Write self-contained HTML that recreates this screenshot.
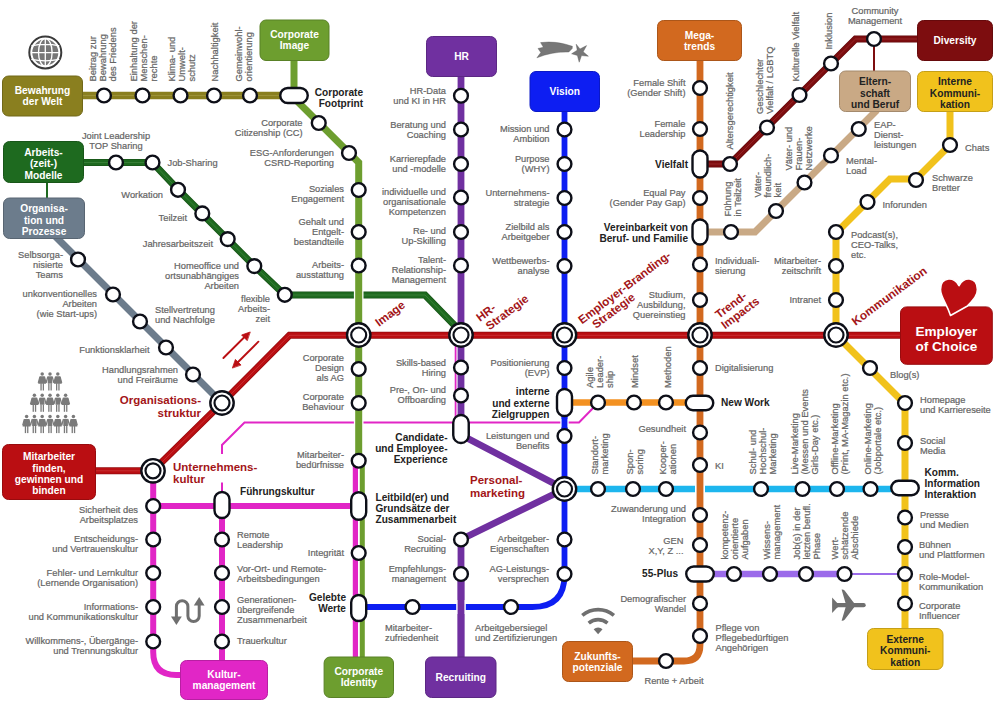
<!DOCTYPE html>
<html><head><meta charset="utf-8"><style>
html,body{margin:0;padding:0;background:#fff;width:1000px;height:702px;overflow:hidden}
svg{display:block}
text{font-family:"Liberation Sans",sans-serif}
</style></head><body>
<svg width="1000" height="702" viewBox="0 0 1000 702">
<rect width="1000" height="702" fill="#fff"/>
<path d="M47,182 V198" fill="none" stroke="#1e6a1f" stroke-width="2" stroke-linejoin="miter"/>
<path d="M874,39 V71" fill="none" stroke="#7d0d0f" stroke-width="2" stroke-linejoin="miter"/>
<path d="M80,95.5 H284" fill="none" stroke="#8a7f1f" stroke-width="7.4" stroke-linejoin="miter"/>
<path d="M80,95.5 H284" fill="none" stroke="#e8e0a0" stroke-width="0.9" stroke-linejoin="miter" opacity="0.22"/>
<path d="M82,162.5 H152.5 L178,189.5 L254.3,266 L284.8,295 H425 L461,332" fill="none" stroke="#185418" stroke-width="7" stroke-linejoin="miter"/>
<path d="M82,162.5 H152.5 L178,189.5 L254.3,266 L284.8,295 H425 L461,332" fill="none" stroke="#1e6a1f" stroke-width="5.4" stroke-linejoin="miter"/>
<path d="M82,162.5 H152.5 L178,189.5 L254.3,266 L284.8,295 H425 L461,332" fill="none" stroke="#a0d0a0" stroke-width="0.9" stroke-linejoin="miter" opacity="0.22"/>
<path d="M55,236 L222,403" fill="none" stroke="#6c7c8c" stroke-width="7" stroke-linejoin="miter"/>
<path d="M222,454 V445 L244.5,422.5 H579 L598,403" fill="none" stroke="#e126c6" stroke-width="2" stroke-linejoin="miter"/>
<path d="M222,493 V482.5" fill="none" stroke="#e126c6" stroke-width="2" stroke-linejoin="miter"/>
<path d="M455.6,345 V418" fill="none" stroke="#e126c6" stroke-width="1.8" stroke-linejoin="miter"/>
<path d="M294,58 V90" fill="none" stroke="#6d9e2f" stroke-width="7" stroke-linejoin="miter"/>
<path d="M358.7,286 V303" fill="none" stroke="#fff" stroke-width="9.6"/>
<path d="M358.7,419 V427" fill="none" stroke="#fff" stroke-width="9.6"/>
<path d="M296,100 L358.7,162.5 V461" fill="none" stroke="#6d9e2f" stroke-width="7" stroke-linejoin="miter"/>
<path d="M362.3,461 V660" fill="none" stroke="#6d9e2f" stroke-width="5" stroke-linejoin="miter"/>
<path d="M355.4,461 V660" fill="none" stroke="#e126c6" stroke-width="5.2" stroke-linejoin="miter"/>
<path d="M461,74 V430" fill="none" stroke="#7030a0" stroke-width="6.8" stroke-linejoin="miter"/>
<path d="M465,437 L564.5,489 L461,539.5 V660" fill="none" stroke="#7030a0" stroke-width="6.8" stroke-linejoin="round"/>
<path d="M564.5,108 V575 Q564.5,607 532.5,607 H366" fill="none" stroke="#0d1ef2" stroke-width="5.8" stroke-linejoin="miter"/>
<path d="M461,600 V614" fill="none" stroke="#fff" stroke-width="9.6"/>
<path d="M461,576 V660" fill="none" stroke="#7030a0" stroke-width="6.8" stroke-linejoin="miter"/>
<path d="M564.5,419 V427" fill="none" stroke="#fff" stroke-width="8.4"/>
<path d="M564.5,415 V430" fill="none" stroke="#0d1ef2" stroke-width="5.8" stroke-linejoin="miter"/>
<path d="M564.5,489 H897" fill="none" stroke="#1db6ee" stroke-width="6.3" stroke-linejoin="miter"/>
<path d="M700,482 V496" fill="none" stroke="#fff" stroke-width="10"/>
<path d="M700,58 V645 Q700,661 684,661 H630" fill="none" stroke="#d2691f" stroke-width="6.8" stroke-linejoin="miter"/>
<path d="M706,164 H730 L855.5,39 H920" fill="none" stroke="#640a0c" stroke-width="7" stroke-linejoin="miter"/>
<path d="M706,164 H730 L855.5,39 H920" fill="none" stroke="#7d0d0f" stroke-width="5.4" stroke-linejoin="miter"/>
<path d="M706,164 H730 L855.5,39 H920" fill="none" stroke="#ff9090" stroke-width="0.9" stroke-linejoin="miter" opacity="0.22"/>
<path d="M877,110 L755,232 H708" fill="none" stroke="#c9a985" stroke-width="7" stroke-linejoin="miter"/>
<path d="M950,108 V145 L916,179 H890 L836,233 V335 L905,404 V632" fill="none" stroke="#f1c21c" stroke-width="7" stroke-linejoin="miter"/>
<path d="M92,470.8 H153 L222,403 L289.5,335.3 H905" fill="none" stroke="#940b0e" stroke-width="7" stroke-linejoin="miter"/>
<path d="M92,470.8 H153 L222,403 L289.5,335.3 H905" fill="none" stroke="#ba0e12" stroke-width="5.4" stroke-linejoin="miter"/>
<path d="M92,470.8 H153 L222,403 L289.5,335.3 H905" fill="none" stroke="#ffb0b0" stroke-width="0.9" stroke-linejoin="miter" opacity="0.22"/>
<path d="M153.2,471 V652 Q153.2,675 176.2,675 H185" fill="none" stroke="#e126c6" stroke-width="6" stroke-linejoin="miter"/>
<path d="M153.2,506 H352" fill="none" stroke="#e126c6" stroke-width="6" stroke-linejoin="miter"/>
<path d="M222,506 V662" fill="none" stroke="#e126c6" stroke-width="6" stroke-linejoin="miter"/>
<path d="M570,402.5 H690" fill="none" stroke="#f39121" stroke-width="6.6" stroke-linejoin="miter"/>
<path d="M708,574 H845" fill="none" stroke="#9b6bea" stroke-width="6.6" stroke-linejoin="miter"/>
<path d="M845,574 H905" fill="none" stroke="#9b6bea" stroke-width="2" stroke-linejoin="miter"/>
<rect x="2.5" y="76.0" width="80" height="40.0" rx="6" ry="6" fill="#8a7f1f" stroke="#716819" stroke-width="1"/>
<g transform="translate(42.5,94.172)"><text font-size="10.2" font-weight="bold" fill="#fff" text-anchor="middle"><tspan x="0" y="0.00">Bewahrung</tspan><tspan x="0" y="11.00">der Welt</tspan></text></g>
<rect x="3.5" y="141.5" width="80" height="41" rx="6" ry="6" fill="#1e6a1f" stroke="#185619" stroke-width="1"/>
<g transform="translate(43.5,155.97199999999998)"><text font-size="10.2" font-weight="bold" fill="#fff" text-anchor="middle"><tspan x="0" y="0.00">Arbeits-</tspan><tspan x="0" y="11.30">(zeit-)</tspan><tspan x="0" y="22.60">Modelle</tspan></text></g>
<rect x="3.5" y="198.0" width="81" height="40.5" rx="6" ry="6" fill="#6c7c8c" stroke="#586572" stroke-width="1"/>
<g transform="translate(44.0,212.22199999999998)"><text font-size="10.2" font-weight="bold" fill="#fff" text-anchor="middle"><tspan x="0" y="0.00">Organisa-</tspan><tspan x="0" y="11.30">tion und</tspan><tspan x="0" y="22.60">Prozesse</tspan></text></g>
<rect x="260.0" y="20.0" width="69.0" height="40.5" rx="6" ry="6" fill="#6d9e2f" stroke="#598126" stroke-width="1"/>
<g transform="translate(294.5,38.422)"><text font-size="10.2" font-weight="bold" fill="#fff" text-anchor="middle"><tspan x="0" y="0.00">Corporate</tspan><tspan x="0" y="11.00">Image</tspan></text></g>
<rect x="426.5" y="36.5" width="70" height="40" rx="6" ry="6" fill="#7030a0" stroke="#5b2783" stroke-width="1"/>
<g transform="translate(461.5,60.172)"><text font-size="10.2" font-weight="bold" fill="#fff" text-anchor="middle"><tspan x="0" y="0.00">HR</tspan></text></g>
<rect x="530.0" y="71.5" width="69.5" height="40" rx="6" ry="6" fill="#0d1ef2" stroke="#0a18c6" stroke-width="1"/>
<g transform="translate(564.75,95.172)"><text font-size="10.2" font-weight="bold" fill="#fff" text-anchor="middle"><tspan x="0" y="0.00">Vision</tspan></text></g>
<rect x="657.5" y="20.5" width="84" height="40" rx="6" ry="6" fill="#d2691f" stroke="#ac5619" stroke-width="1"/>
<g transform="translate(699.5,38.672)"><text font-size="10.2" font-weight="bold" fill="#fff" text-anchor="middle"><tspan x="0" y="0.00">Mega-</tspan><tspan x="0" y="11.00">trends</tspan></text></g>
<rect x="917.5" y="20.5" width="75" height="40" rx="6" ry="6" fill="#7d0d0f" stroke="#660a0c" stroke-width="1"/>
<g transform="translate(955.0,44.172)"><text font-size="10.2" font-weight="bold" fill="#fff" text-anchor="middle"><tspan x="0" y="0.00">Diversity</tspan></text></g>
<rect x="839.5" y="71.0" width="71" height="40.5" rx="6" ry="6" fill="#c9a985" stroke="#a48a6d" stroke-width="1"/>
<g transform="translate(875.0,85.222)"><text font-size="10.2" font-weight="bold" fill="#222222" text-anchor="middle"><tspan x="0" y="0.00">Eltern-</tspan><tspan x="0" y="11.30">schaft</tspan><tspan x="0" y="22.60">und Beruf</tspan></text></g>
<rect x="917.5" y="71.5" width="75" height="40" rx="6" ry="6" fill="#f1c21c" stroke="#c59f16" stroke-width="1"/>
<g transform="translate(955.0,85.472)"><text font-size="10.2" font-weight="bold" fill="#222222" text-anchor="middle"><tspan x="0" y="0.00">Interne</tspan><tspan x="0" y="11.30">Kommuni-</tspan><tspan x="0" y="22.60">kation</tspan></text></g>
<rect x="900.5" y="306.9" width="91.79999999999995" height="57.400000000000034" rx="6" ry="6" fill="#ba0e12" stroke="#980b0e" stroke-width="1"/>
<g transform="translate(946.4,336.49600000000004)"><text font-size="13.6" font-weight="bold" fill="#fff" text-anchor="middle"><tspan x="0" y="0.00">Employer</tspan><tspan x="0" y="14.40">of Choice</tspan></text></g>
<rect x="2.5" y="444.5" width="93" height="55" rx="6" ry="6" fill="#ba0e12" stroke="#980b0e" stroke-width="1"/>
<g transform="translate(49.0,460.32200000000006)"><text font-size="10.2" font-weight="bold" fill="#fff" text-anchor="middle"><tspan x="0" y="0.00">Mitarbeiter</tspan><tspan x="0" y="11.30">finden,</tspan><tspan x="0" y="22.60">gewinnen und</tspan><tspan x="0" y="33.90">binden</tspan></text></g>
<rect x="180.5" y="660.5" width="87" height="39" rx="6" ry="6" fill="#e126c6" stroke="#b81fa2" stroke-width="1"/>
<g transform="translate(224.0,678.172)"><text font-size="10.2" font-weight="bold" fill="#fff" text-anchor="middle"><tspan x="0" y="0.00">Kultur-</tspan><tspan x="0" y="11.00">management</tspan></text></g>
<rect x="324.1" y="657.0" width="69.39999999999998" height="40.5" rx="6" ry="6" fill="#6d9e2f" stroke="#598126" stroke-width="1"/>
<g transform="translate(358.8,675.422)"><text font-size="10.2" font-weight="bold" fill="#fff" text-anchor="middle"><tspan x="0" y="0.00">Corporate</tspan><tspan x="0" y="11.00">Identity</tspan></text></g>
<rect x="425.5" y="657.0" width="70.5" height="40.5" rx="6" ry="6" fill="#7030a0" stroke="#5b2783" stroke-width="1"/>
<g transform="translate(460.75,680.922)"><text font-size="10.2" font-weight="bold" fill="#fff" text-anchor="middle"><tspan x="0" y="0.00">Recruiting</tspan></text></g>
<rect x="562.5" y="641.5" width="70" height="40" rx="6" ry="6" fill="#d2691f" stroke="#ac5619" stroke-width="1"/>
<g transform="translate(597.5,659.672)"><text font-size="10.2" font-weight="bold" fill="#fff" text-anchor="middle"><tspan x="0" y="0.00">Zukunfts-</tspan><tspan x="0" y="11.00">potenziale</tspan></text></g>
<rect x="867.5" y="628.5" width="75.5" height="41" rx="6" ry="6" fill="#f1c21c" stroke="#c59f16" stroke-width="1"/>
<g transform="translate(905.25,642.9720000000001)"><text font-size="10.2" font-weight="bold" fill="#222222" text-anchor="middle"><tspan x="0" y="0.00">Externe</tspan><tspan x="0" y="11.30">Kommuni-</tspan><tspan x="0" y="22.60">kation</tspan></text></g>
<circle cx="104" cy="95.5" r="6.9" fill="#fff" stroke="#0d0f18" stroke-width="2.4"/>
<circle cx="142.5" cy="95.5" r="6.9" fill="#fff" stroke="#0d0f18" stroke-width="2.4"/>
<circle cx="180.5" cy="95.5" r="6.9" fill="#fff" stroke="#0d0f18" stroke-width="2.4"/>
<circle cx="214" cy="95.5" r="6.9" fill="#fff" stroke="#0d0f18" stroke-width="2.4"/>
<circle cx="250" cy="95.5" r="6.9" fill="#fff" stroke="#0d0f18" stroke-width="2.4"/>
<rect x="280.25" y="88.0" width="27.5" height="15" rx="7.5" ry="7.5" fill="#fff" stroke="#0d0f18" stroke-width="2.4"/>
<circle cx="318.75" cy="123" r="6.9" fill="#fff" stroke="#0d0f18" stroke-width="2.4"/>
<circle cx="349" cy="153" r="6.9" fill="#fff" stroke="#0d0f18" stroke-width="2.4"/>
<circle cx="116" cy="162.5" r="6.9" fill="#fff" stroke="#0d0f18" stroke-width="2.4"/>
<circle cx="152.5" cy="162.5" r="6.9" fill="#fff" stroke="#0d0f18" stroke-width="2.4"/>
<circle cx="178" cy="189.8" r="6.9" fill="#fff" stroke="#0d0f18" stroke-width="2.4"/>
<circle cx="202.3" cy="213.4" r="6.9" fill="#fff" stroke="#0d0f18" stroke-width="2.4"/>
<circle cx="227.7" cy="239.1" r="6.9" fill="#fff" stroke="#0d0f18" stroke-width="2.4"/>
<circle cx="254.3" cy="266.1" r="6.9" fill="#fff" stroke="#0d0f18" stroke-width="2.4"/>
<circle cx="284.8" cy="294.8" r="6.9" fill="#fff" stroke="#0d0f18" stroke-width="2.4"/>
<circle cx="78" cy="259.5" r="6.9" fill="#fff" stroke="#0d0f18" stroke-width="2.4"/>
<circle cx="113" cy="294.5" r="6.9" fill="#fff" stroke="#0d0f18" stroke-width="2.4"/>
<circle cx="140" cy="321.5" r="6.9" fill="#fff" stroke="#0d0f18" stroke-width="2.4"/>
<circle cx="166" cy="347.5" r="6.9" fill="#fff" stroke="#0d0f18" stroke-width="2.4"/>
<circle cx="193" cy="374.5" r="6.9" fill="#fff" stroke="#0d0f18" stroke-width="2.4"/>
<circle cx="358.7" cy="190" r="6.9" fill="#fff" stroke="#0d0f18" stroke-width="2.4"/>
<circle cx="358.7" cy="232" r="6.9" fill="#fff" stroke="#0d0f18" stroke-width="2.4"/>
<circle cx="358.7" cy="265.5" r="6.9" fill="#fff" stroke="#0d0f18" stroke-width="2.4"/>
<circle cx="358.7" cy="369" r="6.9" fill="#fff" stroke="#0d0f18" stroke-width="2.4"/>
<circle cx="358.7" cy="403" r="6.9" fill="#fff" stroke="#0d0f18" stroke-width="2.4"/>
<circle cx="358.7" cy="460.75" r="6.9" fill="#fff" stroke="#0d0f18" stroke-width="2.4"/>
<rect x="351.2" y="492.25" width="15" height="27.5" rx="7.5" ry="7.5" fill="#fff" stroke="#0d0f18" stroke-width="2.4"/>
<circle cx="358.7" cy="553" r="6.9" fill="#fff" stroke="#0d0f18" stroke-width="2.4"/>
<rect x="351.2" y="595.0" width="15" height="26" rx="7.5" ry="7.5" fill="#fff" stroke="#0d0f18" stroke-width="2.4"/>
<circle cx="461" cy="95.75" r="6.9" fill="#fff" stroke="#0d0f18" stroke-width="2.4"/>
<circle cx="461" cy="129.5" r="6.9" fill="#fff" stroke="#0d0f18" stroke-width="2.4"/>
<circle cx="461" cy="164" r="6.9" fill="#fff" stroke="#0d0f18" stroke-width="2.4"/>
<circle cx="461" cy="197.5" r="6.9" fill="#fff" stroke="#0d0f18" stroke-width="2.4"/>
<circle cx="461" cy="232" r="6.9" fill="#fff" stroke="#0d0f18" stroke-width="2.4"/>
<circle cx="461" cy="265.5" r="6.9" fill="#fff" stroke="#0d0f18" stroke-width="2.4"/>
<circle cx="461" cy="367.5" r="6.9" fill="#fff" stroke="#0d0f18" stroke-width="2.4"/>
<circle cx="461" cy="395.5" r="6.9" fill="#fff" stroke="#0d0f18" stroke-width="2.4"/>
<rect x="453.25" y="415.0" width="15.5" height="28" rx="7.75" ry="7.75" fill="#fff" stroke="#0d0f18" stroke-width="2.4"/>
<circle cx="461" cy="539.5" r="6.9" fill="#fff" stroke="#0d0f18" stroke-width="2.4"/>
<circle cx="461" cy="574" r="6.9" fill="#fff" stroke="#0d0f18" stroke-width="2.4"/>
<circle cx="564.5" cy="129.5" r="6.9" fill="#fff" stroke="#0d0f18" stroke-width="2.4"/>
<circle cx="564.5" cy="164" r="6.9" fill="#fff" stroke="#0d0f18" stroke-width="2.4"/>
<circle cx="564.5" cy="198" r="6.9" fill="#fff" stroke="#0d0f18" stroke-width="2.4"/>
<circle cx="564.5" cy="232" r="6.9" fill="#fff" stroke="#0d0f18" stroke-width="2.4"/>
<circle cx="564.5" cy="266" r="6.9" fill="#fff" stroke="#0d0f18" stroke-width="2.4"/>
<circle cx="564.5" cy="368" r="6.9" fill="#fff" stroke="#0d0f18" stroke-width="2.4"/>
<circle cx="564.5" cy="436" r="6.9" fill="#fff" stroke="#0d0f18" stroke-width="2.4"/>
<circle cx="564.5" cy="539.5" r="6.9" fill="#fff" stroke="#0d0f18" stroke-width="2.4"/>
<circle cx="564.5" cy="574" r="6.9" fill="#fff" stroke="#0d0f18" stroke-width="2.4"/>
<rect x="557.0" y="389.0" width="15" height="27" rx="7.5" ry="7.5" fill="#fff" stroke="#0d0f18" stroke-width="2.4"/>
<circle cx="511" cy="607" r="6.9" fill="#fff" stroke="#0d0f18" stroke-width="2.4"/>
<circle cx="412.5" cy="607" r="6.9" fill="#fff" stroke="#0d0f18" stroke-width="2.4"/>
<circle cx="700" cy="88" r="6.9" fill="#fff" stroke="#0d0f18" stroke-width="2.4"/>
<circle cx="700" cy="129" r="6.9" fill="#fff" stroke="#0d0f18" stroke-width="2.4"/>
<circle cx="700" cy="198" r="6.9" fill="#fff" stroke="#0d0f18" stroke-width="2.4"/>
<circle cx="700" cy="264.5" r="6.9" fill="#fff" stroke="#0d0f18" stroke-width="2.4"/>
<circle cx="700" cy="300" r="6.9" fill="#fff" stroke="#0d0f18" stroke-width="2.4"/>
<circle cx="700" cy="368" r="6.9" fill="#fff" stroke="#0d0f18" stroke-width="2.4"/>
<circle cx="700" cy="432.5" r="6.9" fill="#fff" stroke="#0d0f18" stroke-width="2.4"/>
<circle cx="700" cy="465" r="6.9" fill="#fff" stroke="#0d0f18" stroke-width="2.4"/>
<circle cx="700" cy="515" r="6.9" fill="#fff" stroke="#0d0f18" stroke-width="2.4"/>
<circle cx="700" cy="545" r="6.9" fill="#fff" stroke="#0d0f18" stroke-width="2.4"/>
<circle cx="700" cy="603.5" r="6.9" fill="#fff" stroke="#0d0f18" stroke-width="2.4"/>
<circle cx="700" cy="636" r="6.9" fill="#fff" stroke="#0d0f18" stroke-width="2.4"/>
<rect x="692.5" y="150.5" width="15" height="27" rx="7.5" ry="7.5" fill="#fff" stroke="#0d0f18" stroke-width="2.4"/>
<rect x="692.5" y="219.5" width="15" height="25" rx="7.5" ry="7.5" fill="#fff" stroke="#0d0f18" stroke-width="2.4"/>
<rect x="685.75" y="395.75" width="27.5" height="14.5" rx="7.25" ry="7.25" fill="#fff" stroke="#0d0f18" stroke-width="2.4"/>
<rect x="686.25" y="566.5" width="27.5" height="15" rx="7.5" ry="7.5" fill="#fff" stroke="#0d0f18" stroke-width="2.4"/>
<circle cx="666" cy="661" r="6.9" fill="#fff" stroke="#0d0f18" stroke-width="2.4"/>
<circle cx="730" cy="164" r="6.9" fill="#fff" stroke="#0d0f18" stroke-width="2.4"/>
<circle cx="767" cy="127.5" r="6.9" fill="#fff" stroke="#0d0f18" stroke-width="2.4"/>
<circle cx="799.5" cy="95" r="6.9" fill="#fff" stroke="#0d0f18" stroke-width="2.4"/>
<circle cx="831" cy="63.5" r="6.9" fill="#fff" stroke="#0d0f18" stroke-width="2.4"/>
<circle cx="874" cy="39" r="6.9" fill="#fff" stroke="#0d0f18" stroke-width="2.4"/>
<circle cx="858.75" cy="129" r="6.9" fill="#fff" stroke="#0d0f18" stroke-width="2.4"/>
<circle cx="831" cy="155.5" r="6.9" fill="#fff" stroke="#0d0f18" stroke-width="2.4"/>
<circle cx="804.5" cy="182.5" r="6.9" fill="#fff" stroke="#0d0f18" stroke-width="2.4"/>
<circle cx="776" cy="211" r="6.9" fill="#fff" stroke="#0d0f18" stroke-width="2.4"/>
<circle cx="731" cy="232" r="6.9" fill="#fff" stroke="#0d0f18" stroke-width="2.4"/>
<circle cx="950" cy="145" r="6.9" fill="#fff" stroke="#0d0f18" stroke-width="2.4"/>
<circle cx="916" cy="180" r="6.9" fill="#fff" stroke="#0d0f18" stroke-width="2.4"/>
<circle cx="867.5" cy="202" r="6.9" fill="#fff" stroke="#0d0f18" stroke-width="2.4"/>
<circle cx="836" cy="232" r="6.9" fill="#fff" stroke="#0d0f18" stroke-width="2.4"/>
<circle cx="836" cy="266" r="6.9" fill="#fff" stroke="#0d0f18" stroke-width="2.4"/>
<circle cx="836" cy="300" r="6.9" fill="#fff" stroke="#0d0f18" stroke-width="2.4"/>
<circle cx="870" cy="368" r="6.9" fill="#fff" stroke="#0d0f18" stroke-width="2.4"/>
<circle cx="905" cy="403" r="6.9" fill="#fff" stroke="#0d0f18" stroke-width="2.4"/>
<circle cx="905" cy="443" r="6.9" fill="#fff" stroke="#0d0f18" stroke-width="2.4"/>
<circle cx="905" cy="517.5" r="6.9" fill="#fff" stroke="#0d0f18" stroke-width="2.4"/>
<circle cx="905" cy="547" r="6.9" fill="#fff" stroke="#0d0f18" stroke-width="2.4"/>
<circle cx="905" cy="574" r="6.9" fill="#fff" stroke="#0d0f18" stroke-width="2.4"/>
<circle cx="905" cy="603.5" r="6.9" fill="#fff" stroke="#0d0f18" stroke-width="2.4"/>
<rect x="891.25" y="480.75" width="27.5" height="14.5" rx="7.25" ry="7.25" fill="#fff" stroke="#0d0f18" stroke-width="2.4"/>
<circle cx="598" cy="402.5" r="6.9" fill="#fff" stroke="#0d0f18" stroke-width="2.4"/>
<circle cx="634" cy="402.5" r="6.9" fill="#fff" stroke="#0d0f18" stroke-width="2.4"/>
<circle cx="666" cy="402.5" r="6.9" fill="#fff" stroke="#0d0f18" stroke-width="2.4"/>
<circle cx="598" cy="489" r="6.9" fill="#fff" stroke="#0d0f18" stroke-width="2.4"/>
<circle cx="633" cy="489" r="6.9" fill="#fff" stroke="#0d0f18" stroke-width="2.4"/>
<circle cx="666" cy="489" r="6.9" fill="#fff" stroke="#0d0f18" stroke-width="2.4"/>
<circle cx="761" cy="489" r="6.9" fill="#fff" stroke="#0d0f18" stroke-width="2.4"/>
<circle cx="802.5" cy="489" r="6.9" fill="#fff" stroke="#0d0f18" stroke-width="2.4"/>
<circle cx="837" cy="489" r="6.9" fill="#fff" stroke="#0d0f18" stroke-width="2.4"/>
<circle cx="870.5" cy="489" r="6.9" fill="#fff" stroke="#0d0f18" stroke-width="2.4"/>
<circle cx="734" cy="574" r="6.9" fill="#fff" stroke="#0d0f18" stroke-width="2.4"/>
<circle cx="770" cy="574" r="6.9" fill="#fff" stroke="#0d0f18" stroke-width="2.4"/>
<circle cx="806" cy="574" r="6.9" fill="#fff" stroke="#0d0f18" stroke-width="2.4"/>
<circle cx="844.5" cy="574" r="6.9" fill="#fff" stroke="#0d0f18" stroke-width="2.4"/>
<circle cx="153.2" cy="506" r="6.9" fill="#fff" stroke="#0d0f18" stroke-width="2.4"/>
<circle cx="153.2" cy="539.5" r="6.9" fill="#fff" stroke="#0d0f18" stroke-width="2.4"/>
<circle cx="153.2" cy="573" r="6.9" fill="#fff" stroke="#0d0f18" stroke-width="2.4"/>
<circle cx="153.2" cy="607" r="6.9" fill="#fff" stroke="#0d0f18" stroke-width="2.4"/>
<circle cx="153.2" cy="641.5" r="6.9" fill="#fff" stroke="#0d0f18" stroke-width="2.4"/>
<rect x="214.5" y="492.0" width="15" height="26" rx="7.5" ry="7.5" fill="#fff" stroke="#0d0f18" stroke-width="2.4"/>
<circle cx="222" cy="539.5" r="6.9" fill="#fff" stroke="#0d0f18" stroke-width="2.4"/>
<circle cx="222" cy="573" r="6.9" fill="#fff" stroke="#0d0f18" stroke-width="2.4"/>
<circle cx="222" cy="607" r="6.9" fill="#fff" stroke="#0d0f18" stroke-width="2.4"/>
<circle cx="222" cy="641.5" r="6.9" fill="#fff" stroke="#0d0f18" stroke-width="2.4"/>
<circle cx="153" cy="470.8" r="11.7" fill="#fff" stroke="#0d0f18" stroke-width="2.4"/>
<circle cx="153" cy="470.8" r="7.5" fill="#fff" stroke="#0d0f18" stroke-width="2.2"/>
<circle cx="222" cy="403" r="11.7" fill="#fff" stroke="#0d0f18" stroke-width="2.4"/>
<circle cx="222" cy="403" r="7.5" fill="#fff" stroke="#0d0f18" stroke-width="2.2"/>
<circle cx="358.7" cy="335" r="11.7" fill="#fff" stroke="#0d0f18" stroke-width="2.4"/>
<circle cx="358.7" cy="335" r="7.5" fill="#fff" stroke="#0d0f18" stroke-width="2.2"/>
<circle cx="461" cy="335" r="11.7" fill="#fff" stroke="#0d0f18" stroke-width="2.4"/>
<circle cx="461" cy="335" r="7.5" fill="#fff" stroke="#0d0f18" stroke-width="2.2"/>
<circle cx="564.5" cy="335" r="11.7" fill="#fff" stroke="#0d0f18" stroke-width="2.4"/>
<circle cx="564.5" cy="335" r="7.5" fill="#fff" stroke="#0d0f18" stroke-width="2.2"/>
<circle cx="700" cy="335" r="11.7" fill="#fff" stroke="#0d0f18" stroke-width="2.4"/>
<circle cx="700" cy="335" r="7.5" fill="#fff" stroke="#0d0f18" stroke-width="2.2"/>
<circle cx="836" cy="335" r="11.7" fill="#fff" stroke="#0d0f18" stroke-width="2.4"/>
<circle cx="836" cy="335" r="7.5" fill="#fff" stroke="#0d0f18" stroke-width="2.2"/>
<circle cx="564.5" cy="489" r="11.7" fill="#fff" stroke="#0d0f18" stroke-width="2.4"/>
<circle cx="564.5" cy="489" r="7.5" fill="#fff" stroke="#0d0f18" stroke-width="2.2"/>
<g transform="translate(96.4,81.5) rotate(-90)"><text font-size="9.4" font-weight="normal" fill="#656565" stroke="#656565" stroke-width="0.22" text-anchor="start"><tspan x="0" y="0.00">Beitrag zur</tspan><tspan x="0" y="10.00">Bewahrung</tspan><tspan x="0" y="20.00">des Friedens</tspan></text></g>
<g transform="translate(137.4,81.5) rotate(-90)"><text font-size="9.4" font-weight="normal" fill="#656565" stroke="#656565" stroke-width="0.22" text-anchor="start"><tspan x="0" y="0.00">Einhaltung der</tspan><tspan x="0" y="10.00">Menschen-</tspan><tspan x="0" y="20.00">rechte</tspan></text></g>
<g transform="translate(175.4,81.5) rotate(-90)"><text font-size="9.4" font-weight="normal" fill="#656565" stroke="#656565" stroke-width="0.22" text-anchor="start"><tspan x="0" y="0.00">Klima- und</tspan><tspan x="0" y="10.00">Umwelt-</tspan><tspan x="0" y="20.00">schutz</tspan></text></g>
<g transform="translate(218.4,81.5) rotate(-90)"><text font-size="9.4" font-weight="normal" fill="#656565" stroke="#656565" stroke-width="0.22" text-anchor="start"><tspan x="0" y="0.00">Nachhaltigkeit</tspan></text></g>
<g transform="translate(242.4,81.5) rotate(-90)"><text font-size="9.4" font-weight="normal" fill="#656565" stroke="#656565" stroke-width="0.22" text-anchor="start"><tspan x="0" y="0.00">Gemeinwohl-</tspan><tspan x="0" y="10.00">orientierung</tspan></text></g>
<g transform="translate(116,139.4) scale(0.97,1)"><text font-size="9.6" font-weight="normal" fill="#656565" stroke="#656565" stroke-width="0.22" text-anchor="middle"><tspan x="0" y="0.00">Joint Leadership</tspan><tspan x="0" y="10.00">TOP Sharing</tspan></text></g>
<g transform="translate(167.5,165.9) scale(0.97,1)"><text font-size="9.6" font-weight="normal" fill="#656565" stroke="#656565" stroke-width="0.22" text-anchor="start"><tspan x="0" y="0.00">Job-Sharing</tspan></text></g>
<g transform="translate(163,197.9) scale(0.97,1)"><text font-size="9.6" font-weight="normal" fill="#656565" stroke="#656565" stroke-width="0.22" text-anchor="end"><tspan x="0" y="0.00">Workation</tspan></text></g>
<g transform="translate(187,221.4) scale(0.97,1)"><text font-size="9.6" font-weight="normal" fill="#656565" stroke="#656565" stroke-width="0.22" text-anchor="end"><tspan x="0" y="0.00">Teilzeit</tspan></text></g>
<g transform="translate(213,247.4) scale(0.97,1)"><text font-size="9.6" font-weight="normal" fill="#656565" stroke="#656565" stroke-width="0.22" text-anchor="end"><tspan x="0" y="0.00">Jahresarbeitszeit</tspan></text></g>
<g transform="translate(239,268.9) scale(0.97,1)"><text font-size="9.6" font-weight="normal" fill="#656565" stroke="#656565" stroke-width="0.22" text-anchor="end"><tspan x="0" y="0.00">Homeoffice und</tspan><tspan x="0" y="10.00">ortsunabhängiges</tspan><tspan x="0" y="20.00">Arbeiten</tspan></text></g>
<g transform="translate(270,302.4) scale(0.97,1)"><text font-size="9.6" font-weight="normal" fill="#656565" stroke="#656565" stroke-width="0.22" text-anchor="end"><tspan x="0" y="0.00">flexible</tspan><tspan x="0" y="10.00">Arbeits-</tspan><tspan x="0" y="20.00">zeit</tspan></text></g>
<g transform="translate(63,258.4) scale(0.97,1)"><text font-size="9.6" font-weight="normal" fill="#656565" stroke="#656565" stroke-width="0.22" text-anchor="end"><tspan x="0" y="0.00">Selbsorga-</tspan><tspan x="0" y="10.00">nisierte</tspan><tspan x="0" y="20.00">Teams</tspan></text></g>
<g transform="translate(97,297.4) scale(0.97,1)"><text font-size="9.6" font-weight="normal" fill="#656565" stroke="#656565" stroke-width="0.22" text-anchor="end"><tspan x="0" y="0.00">unkonventionelles</tspan><tspan x="0" y="10.00">Arbeiten</tspan><tspan x="0" y="20.00">(wie Start-ups)</tspan></text></g>
<g transform="translate(155,313.4) scale(0.97,1)"><text font-size="9.6" font-weight="normal" fill="#656565" stroke="#656565" stroke-width="0.22" text-anchor="start"><tspan x="0" y="0.00">Stellvertretung</tspan><tspan x="0" y="10.00">und Nachfolge</tspan></text></g>
<g transform="translate(149.5,353.4) scale(0.97,1)"><text font-size="9.6" font-weight="normal" fill="#656565" stroke="#656565" stroke-width="0.22" text-anchor="end"><tspan x="0" y="0.00">Funktionsklarheit</tspan></text></g>
<g transform="translate(178,373.4) scale(0.97,1)"><text font-size="9.6" font-weight="normal" fill="#656565" stroke="#656565" stroke-width="0.22" text-anchor="end"><tspan x="0" y="0.00">Handlungsrahmen</tspan><tspan x="0" y="10.00">und Freiräume</tspan></text></g>
<g transform="translate(363,95.9)"><text font-size="10.1" font-weight="bold" fill="#222222" text-anchor="end"><tspan x="0" y="0.00">Corporate</tspan><tspan x="0" y="10.80">Footprint</tspan></text></g>
<g transform="translate(302.5,125.9) scale(0.97,1)"><text font-size="9.6" font-weight="normal" fill="#656565" stroke="#656565" stroke-width="0.22" text-anchor="end"><tspan x="0" y="0.00">Corporate</tspan><tspan x="0" y="10.00">Citizenship (CC)</tspan></text></g>
<g transform="translate(334,156.4) scale(0.97,1)"><text font-size="9.6" font-weight="normal" fill="#656565" stroke="#656565" stroke-width="0.22" text-anchor="end"><tspan x="0" y="0.00">ESG-Anforderungen</tspan><tspan x="0" y="10.00">CSRD-Reporting</tspan></text></g>
<g transform="translate(344,192.4) scale(0.97,1)"><text font-size="9.6" font-weight="normal" fill="#656565" stroke="#656565" stroke-width="0.22" text-anchor="end"><tspan x="0" y="0.00">Soziales</tspan><tspan x="0" y="10.00">Engagement</tspan></text></g>
<g transform="translate(344,225.4) scale(0.97,1)"><text font-size="9.6" font-weight="normal" fill="#656565" stroke="#656565" stroke-width="0.22" text-anchor="end"><tspan x="0" y="0.00">Gehalt und</tspan><tspan x="0" y="10.00">Entgelt-</tspan><tspan x="0" y="20.00">bestandteile</tspan></text></g>
<g transform="translate(344,268.4) scale(0.97,1)"><text font-size="9.6" font-weight="normal" fill="#656565" stroke="#656565" stroke-width="0.22" text-anchor="end"><tspan x="0" y="0.00">Arbeits-</tspan><tspan x="0" y="10.00">ausstattung</tspan></text></g>
<g transform="translate(344,361.4) scale(0.97,1)"><text font-size="9.6" font-weight="normal" fill="#656565" stroke="#656565" stroke-width="0.22" text-anchor="end"><tspan x="0" y="0.00">Corporate</tspan><tspan x="0" y="10.00">Design</tspan><tspan x="0" y="20.00">als AG</tspan></text></g>
<g transform="translate(344,400.4) scale(0.97,1)"><text font-size="9.6" font-weight="normal" fill="#656565" stroke="#656565" stroke-width="0.22" text-anchor="end"><tspan x="0" y="0.00">Corporate</tspan><tspan x="0" y="10.00">Behaviour</tspan></text></g>
<g transform="translate(344,458.4) scale(0.97,1)"><text font-size="9.6" font-weight="normal" fill="#656565" stroke="#656565" stroke-width="0.22" text-anchor="end"><tspan x="0" y="0.00">Mitarbeiter-</tspan><tspan x="0" y="10.00">bedürfnisse</tspan></text></g>
<g transform="translate(344,556.4) scale(0.97,1)"><text font-size="9.6" font-weight="normal" fill="#656565" stroke="#656565" stroke-width="0.22" text-anchor="end"><tspan x="0" y="0.00">Integrität</tspan></text></g>
<g transform="translate(346,601.4)"><text font-size="10.1" font-weight="bold" fill="#222222" text-anchor="end"><tspan x="0" y="0.00">Gelebte</tspan><tspan x="0" y="10.80">Werte</tspan></text></g>
<g transform="translate(446,94.4) scale(0.97,1)"><text font-size="9.6" font-weight="normal" fill="#656565" stroke="#656565" stroke-width="0.22" text-anchor="end"><tspan x="0" y="0.00">HR-Data</tspan><tspan x="0" y="10.00">und KI in HR</tspan></text></g>
<g transform="translate(446,127.9) scale(0.97,1)"><text font-size="9.6" font-weight="normal" fill="#656565" stroke="#656565" stroke-width="0.22" text-anchor="end"><tspan x="0" y="0.00">Beratung und</tspan><tspan x="0" y="10.00">Coaching</tspan></text></g>
<g transform="translate(446,162.4) scale(0.97,1)"><text font-size="9.6" font-weight="normal" fill="#656565" stroke="#656565" stroke-width="0.22" text-anchor="end"><tspan x="0" y="0.00">Karrierepfade</tspan><tspan x="0" y="10.00">und -modelle</tspan></text></g>
<g transform="translate(446,195.4) scale(0.97,1)"><text font-size="9.6" font-weight="normal" fill="#656565" stroke="#656565" stroke-width="0.22" text-anchor="end"><tspan x="0" y="0.00">individuelle und</tspan><tspan x="0" y="10.00">organisationale</tspan><tspan x="0" y="20.00">Kompetenzen</tspan></text></g>
<g transform="translate(446,234.4) scale(0.97,1)"><text font-size="9.6" font-weight="normal" fill="#656565" stroke="#656565" stroke-width="0.22" text-anchor="end"><tspan x="0" y="0.00">Re- und</tspan><tspan x="0" y="10.00">Up-Skilling</tspan></text></g>
<g transform="translate(446,263.4) scale(0.97,1)"><text font-size="9.6" font-weight="normal" fill="#656565" stroke="#656565" stroke-width="0.22" text-anchor="end"><tspan x="0" y="0.00">Talent-</tspan><tspan x="0" y="10.00">Relationship-</tspan><tspan x="0" y="20.00">Management</tspan></text></g>
<g transform="translate(446,365.9) scale(0.97,1)"><text font-size="9.6" font-weight="normal" fill="#656565" stroke="#656565" stroke-width="0.22" text-anchor="end"><tspan x="0" y="0.00">Skills-based</tspan><tspan x="0" y="10.00">Hiring</tspan></text></g>
<g transform="translate(446,393.4) scale(0.97,1)"><text font-size="9.6" font-weight="normal" fill="#656565" stroke="#656565" stroke-width="0.22" text-anchor="end"><tspan x="0" y="0.00">Pre-, On- und</tspan><tspan x="0" y="10.00">Offboarding</tspan></text></g>
<g transform="translate(447.5,440.9)"><text font-size="10.1" font-weight="bold" fill="#222222" text-anchor="end"><tspan x="0" y="0.00">Candidate-</tspan><tspan x="0" y="11.00">und Employee-</tspan><tspan x="0" y="22.00">Experience</tspan></text></g>
<g transform="translate(375.5,500.9)"><text font-size="10.1" font-weight="bold" fill="#222222" text-anchor="start"><tspan x="0" y="0.00">Leitbild(er) und</tspan><tspan x="0" y="11.20">Grundsätze der</tspan><tspan x="0" y="22.40">Zusammenarbeit</tspan></text></g>
<g transform="translate(240,495.4)"><text font-size="10.1" font-weight="bold" fill="#222222" text-anchor="start"><tspan x="0" y="0.00">Führungskultur</tspan></text></g>
<g transform="translate(446,542.4) scale(0.97,1)"><text font-size="9.6" font-weight="normal" fill="#656565" stroke="#656565" stroke-width="0.22" text-anchor="end"><tspan x="0" y="0.00">Social-</tspan><tspan x="0" y="10.00">Recruiting</tspan></text></g>
<g transform="translate(446,572.4) scale(0.97,1)"><text font-size="9.6" font-weight="normal" fill="#656565" stroke="#656565" stroke-width="0.22" text-anchor="end"><tspan x="0" y="0.00">Empfehlungs-</tspan><tspan x="0" y="10.00">management</tspan></text></g>
<g transform="translate(385,631.4) scale(0.97,1)"><text font-size="9.6" font-weight="normal" fill="#656565" stroke="#656565" stroke-width="0.22" text-anchor="start"><tspan x="0" y="0.00">Mitarbeiter-</tspan><tspan x="0" y="10.00">zufriedenheit</tspan></text></g>
<g transform="translate(475,631.4) scale(0.97,1)"><text font-size="9.6" font-weight="normal" fill="#656565" stroke="#656565" stroke-width="0.22" text-anchor="start"><tspan x="0" y="0.00">Arbeitgebersiegel</tspan><tspan x="0" y="10.00">und Zertifizierungen</tspan></text></g>
<g transform="translate(549.5,131.9) scale(0.97,1)"><text font-size="9.6" font-weight="normal" fill="#656565" stroke="#656565" stroke-width="0.22" text-anchor="end"><tspan x="0" y="0.00">Mission und</tspan><tspan x="0" y="10.00">Ambition</tspan></text></g>
<g transform="translate(549.5,162.4) scale(0.97,1)"><text font-size="9.6" font-weight="normal" fill="#656565" stroke="#656565" stroke-width="0.22" text-anchor="end"><tspan x="0" y="0.00">Purpose</tspan><tspan x="0" y="10.00">(WHY)</tspan></text></g>
<g transform="translate(549.5,196.4) scale(0.97,1)"><text font-size="9.6" font-weight="normal" fill="#656565" stroke="#656565" stroke-width="0.22" text-anchor="end"><tspan x="0" y="0.00">Unternehmens-</tspan><tspan x="0" y="10.00">strategie</tspan></text></g>
<g transform="translate(549.5,230.4) scale(0.97,1)"><text font-size="9.6" font-weight="normal" fill="#656565" stroke="#656565" stroke-width="0.22" text-anchor="end"><tspan x="0" y="0.00">Zielbild als</tspan><tspan x="0" y="10.00">Arbeitgeber</tspan></text></g>
<g transform="translate(549.5,264.4) scale(0.97,1)"><text font-size="9.6" font-weight="normal" fill="#656565" stroke="#656565" stroke-width="0.22" text-anchor="end"><tspan x="0" y="0.00">Wettbewerbs-</tspan><tspan x="0" y="10.00">analyse</tspan></text></g>
<g transform="translate(549.5,365.9) scale(0.97,1)"><text font-size="9.6" font-weight="normal" fill="#656565" stroke="#656565" stroke-width="0.22" text-anchor="end"><tspan x="0" y="0.00">Positionierung</tspan><tspan x="0" y="10.00">(EVP)</tspan></text></g>
<g transform="translate(549.5,395.4)"><text font-size="10.1" font-weight="bold" fill="#222222" text-anchor="end"><tspan x="0" y="0.00">interne</tspan><tspan x="0" y="11.20">und externe</tspan><tspan x="0" y="22.40">Zielgruppen</tspan></text></g>
<g transform="translate(549.5,439.4) scale(0.97,1)"><text font-size="9.6" font-weight="normal" fill="#656565" stroke="#656565" stroke-width="0.22" text-anchor="end"><tspan x="0" y="0.00">Leistungen und</tspan><tspan x="0" y="10.00">Benefits</tspan></text></g>
<g transform="translate(549,542.4) scale(0.97,1)"><text font-size="9.6" font-weight="normal" fill="#656565" stroke="#656565" stroke-width="0.22" text-anchor="end"><tspan x="0" y="0.00">Arbeitgeber-</tspan><tspan x="0" y="10.00">Eigenschaften</tspan></text></g>
<g transform="translate(549,572.4) scale(0.97,1)"><text font-size="9.6" font-weight="normal" fill="#656565" stroke="#656565" stroke-width="0.22" text-anchor="end"><tspan x="0" y="0.00">AG-Leistungs-</tspan><tspan x="0" y="10.00">versprechen</tspan></text></g>
<g transform="translate(685.5,86.4) scale(0.97,1)"><text font-size="9.6" font-weight="normal" fill="#656565" stroke="#656565" stroke-width="0.22" text-anchor="end"><tspan x="0" y="0.00">Female Shift</tspan><tspan x="0" y="10.00">(Gender Shift)</tspan></text></g>
<g transform="translate(685.5,127.4) scale(0.97,1)"><text font-size="9.6" font-weight="normal" fill="#656565" stroke="#656565" stroke-width="0.22" text-anchor="end"><tspan x="0" y="0.00">Female</tspan><tspan x="0" y="10.00">Leadership</tspan></text></g>
<g transform="translate(688,167.9)"><text font-size="10.1" font-weight="bold" fill="#222222" text-anchor="end"><tspan x="0" y="0.00">Vielfalt</tspan></text></g>
<g transform="translate(685.5,196.4) scale(0.97,1)"><text font-size="9.6" font-weight="normal" fill="#656565" stroke="#656565" stroke-width="0.22" text-anchor="end"><tspan x="0" y="0.00">Equal Pay</tspan><tspan x="0" y="10.00">(Gender Pay Gap)</tspan></text></g>
<g transform="translate(688,230.9)"><text font-size="10.1" font-weight="bold" fill="#222222" text-anchor="end"><tspan x="0" y="0.00">Vereinbarkeit von</tspan><tspan x="0" y="11.30">Beruf- und Familie</tspan></text></g>
<g transform="translate(715,264.4) scale(0.97,1)"><text font-size="9.6" font-weight="normal" fill="#656565" stroke="#656565" stroke-width="0.22" text-anchor="start"><tspan x="0" y="0.00">Individuali-</tspan><tspan x="0" y="10.00">sierung</tspan></text></g>
<g transform="translate(685.5,298.4) scale(0.97,1)"><text font-size="9.6" font-weight="normal" fill="#656565" stroke="#656565" stroke-width="0.22" text-anchor="end"><tspan x="0" y="0.00">Studium,</tspan><tspan x="0" y="10.00">Ausbildung,</tspan><tspan x="0" y="20.00">Quereinstieg</tspan></text></g>
<g transform="translate(715,371.4) scale(0.97,1)"><text font-size="9.6" font-weight="normal" fill="#656565" stroke="#656565" stroke-width="0.22" text-anchor="start"><tspan x="0" y="0.00">Digitalisierung</tspan></text></g>
<g transform="translate(721,406.4)"><text font-size="10.1" font-weight="bold" fill="#222222" text-anchor="start"><tspan x="0" y="0.00">New Work</tspan></text></g>
<g transform="translate(686,432.4) scale(0.97,1)"><text font-size="9.6" font-weight="normal" fill="#656565" stroke="#656565" stroke-width="0.22" text-anchor="end"><tspan x="0" y="0.00">Gesundheit</tspan></text></g>
<g transform="translate(715,468.9) scale(0.97,1)"><text font-size="9.6" font-weight="normal" fill="#656565" stroke="#656565" stroke-width="0.22" text-anchor="start"><tspan x="0" y="0.00">KI</tspan></text></g>
<g transform="translate(686,512.4) scale(0.97,1)"><text font-size="9.6" font-weight="normal" fill="#656565" stroke="#656565" stroke-width="0.22" text-anchor="end"><tspan x="0" y="0.00">Zuwanderung und</tspan><tspan x="0" y="10.00">Integration</tspan></text></g>
<g transform="translate(683.5,544.0) scale(0.97,1)"><text font-size="9.6" font-weight="normal" fill="#656565" stroke="#656565" stroke-width="0.22" text-anchor="end"><tspan x="0" y="0.00">GEN</tspan><tspan x="0" y="10.00">X,Y, Z ...</tspan></text></g>
<g transform="translate(678,577.4)"><text font-size="10.1" font-weight="bold" fill="#222222" text-anchor="end"><tspan x="0" y="0.00">55-Plus</tspan></text></g>
<g transform="translate(686,602.0) scale(0.97,1)"><text font-size="9.6" font-weight="normal" fill="#656565" stroke="#656565" stroke-width="0.22" text-anchor="end"><tspan x="0" y="0.00">Demografischer</tspan><tspan x="0" y="10.00">Wandel</tspan></text></g>
<g transform="translate(715.5,631.4) scale(0.97,1)"><text font-size="9.6" font-weight="normal" fill="#656565" stroke="#656565" stroke-width="0.22" text-anchor="start"><tspan x="0" y="0.00">Pflege von</tspan><tspan x="0" y="10.00">Pflegebedürftigen</tspan><tspan x="0" y="20.00">Angehörigen</tspan></text></g>
<g transform="translate(674,684.4) scale(0.97,1)"><text font-size="9.6" font-weight="normal" fill="#656565" stroke="#656565" stroke-width="0.22" text-anchor="middle"><tspan x="0" y="0.00">Rente + Arbeit</tspan></text></g>
<g transform="translate(732.9,149.5) rotate(-90)"><text font-size="9.4" font-weight="normal" fill="#656565" stroke="#656565" stroke-width="0.22" text-anchor="start"><tspan x="0" y="0.00">Altersgerechtigkeit</tspan></text></g>
<g transform="translate(731.4,216.5) rotate(-90)"><text font-size="9.4" font-weight="normal" fill="#656565" stroke="#656565" stroke-width="0.22" text-anchor="start"><tspan x="0" y="0.00">Führung</tspan><tspan x="0" y="10.00">in Teilzeit</tspan></text></g>
<g transform="translate(763.4,114.0) rotate(-90)"><text font-size="9.4" font-weight="normal" fill="#656565" stroke="#656565" stroke-width="0.22" text-anchor="start"><tspan x="0" y="0.00">Geschlechter</tspan><tspan x="0" y="10.00">Vielfalt / LGBTQ</tspan></text></g>
<g transform="translate(799.4,81.5) rotate(-90)"><text font-size="9.4" font-weight="normal" fill="#656565" stroke="#656565" stroke-width="0.22" text-anchor="start"><tspan x="0" y="0.00">Kulturelle Vielfalt</tspan></text></g>
<g transform="translate(832.4,49.5) rotate(-90)"><text font-size="9.4" font-weight="normal" fill="#656565" stroke="#656565" stroke-width="0.22" text-anchor="start"><tspan x="0" y="0.00">Inklusion</tspan></text></g>
<g transform="translate(761.1999999999999,197.5) rotate(-90)"><text font-size="9.4" font-weight="normal" fill="#656565" stroke="#656565" stroke-width="0.22" text-anchor="start"><tspan x="0" y="0.00">Väter-</tspan><tspan x="0" y="10.00">freundlich-</tspan><tspan x="0" y="20.00">keit</tspan></text></g>
<g transform="translate(792.4,170.5) rotate(-90)"><text font-size="9.4" font-weight="normal" fill="#656565" stroke="#656565" stroke-width="0.22" text-anchor="start"><tspan x="0" y="0.00">Väter- und</tspan><tspan x="0" y="10.00">Frauen-</tspan><tspan x="0" y="20.00">Netzwerke</tspan></text></g>
<g transform="translate(875,14.4) scale(0.97,1)"><text font-size="9.6" font-weight="normal" fill="#656565" stroke="#656565" stroke-width="0.22" text-anchor="middle"><tspan x="0" y="0.00">Community</tspan><tspan x="0" y="10.00">Management</tspan></text></g>
<g transform="translate(874,128.4) scale(0.97,1)"><text font-size="9.6" font-weight="normal" fill="#656565" stroke="#656565" stroke-width="0.22" text-anchor="start"><tspan x="0" y="0.00">EAP-</tspan><tspan x="0" y="10.00">Dienst-</tspan><tspan x="0" y="20.00">leistungen</tspan></text></g>
<g transform="translate(846,164.4) scale(0.97,1)"><text font-size="9.6" font-weight="normal" fill="#656565" stroke="#656565" stroke-width="0.22" text-anchor="start"><tspan x="0" y="0.00">Mental-</tspan><tspan x="0" y="10.00">Load</tspan></text></g>
<g transform="translate(965,151.4) scale(0.97,1)"><text font-size="9.6" font-weight="normal" fill="#656565" stroke="#656565" stroke-width="0.22" text-anchor="start"><tspan x="0" y="0.00">Chats</tspan></text></g>
<g transform="translate(932,181.4) scale(0.97,1)"><text font-size="9.6" font-weight="normal" fill="#656565" stroke="#656565" stroke-width="0.22" text-anchor="start"><tspan x="0" y="0.00">Schwarze</tspan><tspan x="0" y="10.00">Bretter</tspan></text></g>
<g transform="translate(882.5,207.9) scale(0.97,1)"><text font-size="9.6" font-weight="normal" fill="#656565" stroke="#656565" stroke-width="0.22" text-anchor="start"><tspan x="0" y="0.00">Inforunden</tspan></text></g>
<g transform="translate(851,237.9) scale(0.97,1)"><text font-size="9.6" font-weight="normal" fill="#656565" stroke="#656565" stroke-width="0.22" text-anchor="start"><tspan x="0" y="0.00">Podcast(s),</tspan><tspan x="0" y="10.00">CEO-Talks,</tspan><tspan x="0" y="20.00">etc.</tspan></text></g>
<g transform="translate(821,264.4) scale(0.97,1)"><text font-size="9.6" font-weight="normal" fill="#656565" stroke="#656565" stroke-width="0.22" text-anchor="end"><tspan x="0" y="0.00">Mitarbeiter-</tspan><tspan x="0" y="10.00">zeitschrift</tspan></text></g>
<g transform="translate(821,302.9) scale(0.97,1)"><text font-size="9.6" font-weight="normal" fill="#656565" stroke="#656565" stroke-width="0.22" text-anchor="end"><tspan x="0" y="0.00">Intranet</tspan></text></g>
<g transform="translate(890,378.4) scale(0.97,1)"><text font-size="9.6" font-weight="normal" fill="#656565" stroke="#656565" stroke-width="0.22" text-anchor="start"><tspan x="0" y="0.00">Blog(s)</tspan></text></g>
<g transform="translate(920,402.9) scale(0.97,1)"><text font-size="9.6" font-weight="normal" fill="#656565" stroke="#656565" stroke-width="0.22" text-anchor="start"><tspan x="0" y="0.00">Homepage</tspan><tspan x="0" y="10.00">und Karriereseite</tspan></text></g>
<g transform="translate(920,443.9) scale(0.97,1)"><text font-size="9.6" font-weight="normal" fill="#656565" stroke="#656565" stroke-width="0.22" text-anchor="start"><tspan x="0" y="0.00">Social</tspan><tspan x="0" y="10.00">Media</tspan></text></g>
<g transform="translate(924.5,476.4)"><text font-size="10.1" font-weight="bold" fill="#222222" text-anchor="start"><tspan x="0" y="0.00">Komm.</tspan><tspan x="0" y="11.00">Information</tspan><tspan x="0" y="22.00">Interaktion</tspan></text></g>
<g transform="translate(920,518.4) scale(0.97,1)"><text font-size="9.6" font-weight="normal" fill="#656565" stroke="#656565" stroke-width="0.22" text-anchor="start"><tspan x="0" y="0.00">Presse</tspan><tspan x="0" y="10.00">und Medien</tspan></text></g>
<g transform="translate(919,548.1) scale(0.97,1)"><text font-size="9.6" font-weight="normal" fill="#656565" stroke="#656565" stroke-width="0.22" text-anchor="start"><tspan x="0" y="0.00">Bühnen</tspan><tspan x="0" y="10.00">und Plattformen</tspan></text></g>
<g transform="translate(919,580.1) scale(0.97,1)"><text font-size="9.6" font-weight="normal" fill="#656565" stroke="#656565" stroke-width="0.22" text-anchor="start"><tspan x="0" y="0.00">Role-Model-</tspan><tspan x="0" y="10.00">Kommunikation</tspan></text></g>
<g transform="translate(919,609.0) scale(0.97,1)"><text font-size="9.6" font-weight="normal" fill="#656565" stroke="#656565" stroke-width="0.22" text-anchor="start"><tspan x="0" y="0.00">Corporate</tspan><tspan x="0" y="10.00">Influencer</tspan></text></g>
<g transform="translate(593.4,388.0) rotate(-90)"><text font-size="9.4" font-weight="normal" fill="#656565" stroke="#656565" stroke-width="0.22" text-anchor="start"><tspan x="0" y="0.00">Agile</tspan><tspan x="0" y="10.00">Leader-</tspan><tspan x="0" y="20.00">ship</tspan></text></g>
<g transform="translate(638.4,388.0) rotate(-90)"><text font-size="9.4" font-weight="normal" fill="#656565" stroke="#656565" stroke-width="0.22" text-anchor="start"><tspan x="0" y="0.00">Mindset</tspan></text></g>
<g transform="translate(670.9,388.0) rotate(-90)"><text font-size="9.4" font-weight="normal" fill="#656565" stroke="#656565" stroke-width="0.22" text-anchor="start"><tspan x="0" y="0.00">Methoden</tspan></text></g>
<g transform="translate(598.4,474.5) rotate(-90)"><text font-size="9.4" font-weight="normal" fill="#656565" stroke="#656565" stroke-width="0.22" text-anchor="start"><tspan x="0" y="0.00">Standort-</tspan><tspan x="0" y="10.00">marketing</tspan></text></g>
<g transform="translate(633.4,474.5) rotate(-90)"><text font-size="9.4" font-weight="normal" fill="#656565" stroke="#656565" stroke-width="0.22" text-anchor="start"><tspan x="0" y="0.00">Spon-</tspan><tspan x="0" y="10.00">soring</tspan></text></g>
<g transform="translate(665.9,474.5) rotate(-90)"><text font-size="9.4" font-weight="normal" fill="#656565" stroke="#656565" stroke-width="0.22" text-anchor="start"><tspan x="0" y="0.00">Kooper-</tspan><tspan x="0" y="10.00">ationen</tspan></text></g>
<g transform="translate(755.9,474.5) rotate(-90)"><text font-size="9.4" font-weight="normal" fill="#656565" stroke="#656565" stroke-width="0.22" text-anchor="start"><tspan x="0" y="0.00">Schul- und</tspan><tspan x="0" y="10.00">Hochschul-</tspan><tspan x="0" y="20.00">Marketing</tspan></text></g>
<g transform="translate(798.4,474.5) rotate(-90)"><text font-size="9.4" font-weight="normal" fill="#656565" stroke="#656565" stroke-width="0.22" text-anchor="start"><tspan x="0" y="0.00">Live-Marketing</tspan><tspan x="0" y="10.00">(Messen und Events</tspan><tspan x="0" y="20.00">Girls-Day etc.)</tspan></text></g>
<g transform="translate(838.4,474.5) rotate(-90)"><text font-size="9.4" font-weight="normal" fill="#656565" stroke="#656565" stroke-width="0.22" text-anchor="start"><tspan x="0" y="0.00">Offline-Marketing</tspan><tspan x="0" y="10.00">(Print, MA-Magazin etc.)</tspan></text></g>
<g transform="translate(870.9,474.5) rotate(-90)"><text font-size="9.4" font-weight="normal" fill="#656565" stroke="#656565" stroke-width="0.22" text-anchor="start"><tspan x="0" y="0.00">Online-Marketing</tspan><tspan x="0" y="10.00">(Jobportale etc.)</tspan></text></g>
<g transform="translate(728.4,559.5) rotate(-90)"><text font-size="9.4" font-weight="normal" fill="#656565" stroke="#656565" stroke-width="0.22" text-anchor="start"><tspan x="0" y="0.00">kompetenz-</tspan><tspan x="0" y="10.00">orientierte</tspan><tspan x="0" y="20.00">Aufgaben</tspan></text></g>
<g transform="translate(769.8,559.5) rotate(-90)"><text font-size="9.4" font-weight="normal" fill="#656565" stroke="#656565" stroke-width="0.22" text-anchor="start"><tspan x="0" y="0.00">Wissens-</tspan><tspan x="0" y="10.00">management</tspan></text></g>
<g transform="translate(800.0,559.5) rotate(-90)"><text font-size="9.4" font-weight="normal" fill="#656565" stroke="#656565" stroke-width="0.22" text-anchor="start"><tspan x="0" y="0.00">Job(s) in der</tspan><tspan x="0" y="10.00">letzten berufl.</tspan><tspan x="0" y="20.00">Phase</tspan></text></g>
<g transform="translate(837.8,559.5) rotate(-90)"><text font-size="9.4" font-weight="normal" fill="#656565" stroke="#656565" stroke-width="0.22" text-anchor="start"><tspan x="0" y="0.00">Wert-</tspan><tspan x="0" y="10.00">schätzende</tspan><tspan x="0" y="20.00">Abschiede</tspan></text></g>
<g transform="translate(138,513.4) scale(0.97,1)"><text font-size="9.6" font-weight="normal" fill="#656565" stroke="#656565" stroke-width="0.22" text-anchor="end"><tspan x="0" y="0.00">Sicherheit des</tspan><tspan x="0" y="10.00">Arbeitsplatzes</tspan></text></g>
<g transform="translate(138,542.4) scale(0.97,1)"><text font-size="9.6" font-weight="normal" fill="#656565" stroke="#656565" stroke-width="0.22" text-anchor="end"><tspan x="0" y="0.00">Entscheidungs-</tspan><tspan x="0" y="10.00">und Vertrauenskultur</tspan></text></g>
<g transform="translate(138,575.9) scale(0.97,1)"><text font-size="9.6" font-weight="normal" fill="#656565" stroke="#656565" stroke-width="0.22" text-anchor="end"><tspan x="0" y="0.00">Fehler- und Lernkultur</tspan><tspan x="0" y="10.00">(Lernende Organisation)</tspan></text></g>
<g transform="translate(138,610.4) scale(0.97,1)"><text font-size="9.6" font-weight="normal" fill="#656565" stroke="#656565" stroke-width="0.22" text-anchor="end"><tspan x="0" y="0.00">Informations-</tspan><tspan x="0" y="10.00">und Kommunikationskultur</tspan></text></g>
<g transform="translate(138,644.4) scale(0.97,1)"><text font-size="9.6" font-weight="normal" fill="#656565" stroke="#656565" stroke-width="0.22" text-anchor="end"><tspan x="0" y="0.00">Willkommens-, Übergänge-</tspan><tspan x="0" y="10.00">und Trennungskultur</tspan></text></g>
<g transform="translate(237,538.4) scale(0.97,1)"><text font-size="9.6" font-weight="normal" fill="#656565" stroke="#656565" stroke-width="0.22" text-anchor="start"><tspan x="0" y="0.00">Remote</tspan><tspan x="0" y="10.00">Leadership</tspan></text></g>
<g transform="translate(237,572.4) scale(0.97,1)"><text font-size="9.6" font-weight="normal" fill="#656565" stroke="#656565" stroke-width="0.22" text-anchor="start"><tspan x="0" y="0.00">Vor-Ort- und Remote-</tspan><tspan x="0" y="10.00">Arbeitsbedingungen</tspan></text></g>
<g transform="translate(237,603.4) scale(0.97,1)"><text font-size="9.6" font-weight="normal" fill="#656565" stroke="#656565" stroke-width="0.22" text-anchor="start"><tspan x="0" y="0.00">Generationen-</tspan><tspan x="0" y="10.00">übergreifende</tspan><tspan x="0" y="20.00">Zusammenarbeit</tspan></text></g>
<g transform="translate(237,644.4) scale(0.97,1)"><text font-size="9.6" font-weight="normal" fill="#656565" stroke="#656565" stroke-width="0.22" text-anchor="start"><tspan x="0" y="0.00">Trauerkultur</tspan></text></g>
<g transform="translate(201,404.4)"><text font-size="11.5" font-weight="bold" fill="#a31518" text-anchor="end"><tspan x="0" y="0.00">Organisations-</tspan><tspan x="0" y="12.50">struktur</tspan></text></g>
<g transform="translate(173,470.9)"><text font-size="11.5" font-weight="bold" fill="#a31518" text-anchor="start"><tspan x="0" y="0.00">Unternehmens-</tspan><tspan x="0" y="12.50">kultur</tspan></text></g>
<g transform="translate(470,484.4)"><text font-size="11.5" font-weight="bold" fill="#a31518" text-anchor="start"><tspan x="0" y="0.00">Personal-</tspan><tspan x="0" y="12.50">marketing</tspan></text></g>
<g transform="translate(379,327) rotate(-37)"><text font-size="11.7" font-weight="bold" fill="#a31518" text-anchor="start"><tspan x="0" y="0.00">Image</tspan></text></g>
<g transform="translate(480,322) rotate(-37)"><text font-size="11.7" font-weight="bold" fill="#a31518" text-anchor="start"><tspan x="0" y="0.00">HR-</tspan></text></g>
<g transform="translate(489.5,330.5) rotate(-37)"><text font-size="11.7" font-weight="bold" fill="#a31518" text-anchor="start"><tspan x="0" y="0.00">Strategie</tspan></text></g>
<g transform="translate(582,324.5) rotate(-37)"><text font-size="11.7" font-weight="bold" fill="#a31518" text-anchor="start"><tspan x="0" y="0.00">Employer-Branding-</tspan></text></g>
<g transform="translate(596,329) rotate(-37)"><text font-size="11.7" font-weight="bold" fill="#a31518" text-anchor="start"><tspan x="0" y="0.00">Strategie</tspan></text></g>
<g transform="translate(719,319) rotate(-37)"><text font-size="11.7" font-weight="bold" fill="#a31518" text-anchor="start"><tspan x="0" y="0.00">Trend-</tspan></text></g>
<g transform="translate(725,329.5) rotate(-37)"><text font-size="11.7" font-weight="bold" fill="#a31518" text-anchor="start"><tspan x="0" y="0.00">Impacts</tspan></text></g>
<g transform="translate(855.5,326) rotate(-36.4)"><text font-size="11.9" font-weight="bold" fill="#a31518" text-anchor="start"><tspan x="0" y="0.00">Kommunikation</tspan></text></g>
<g transform="translate(45.3,52.4)"><circle r="16" fill="#fff" stroke="#3a3a3a" stroke-width="2"/><circle r="13.6" fill="#777777"/><g fill="none" stroke="#fff" stroke-width="1.3"><path d="M-14,-6.6 Q0,-9.5 14,-6.6 M-14,0.2 H14 M-14,7 Q0,9.8 14,7 M0,-14 V14"/><ellipse rx="6.8" ry="13.8"/><circle r="13.7"/></g></g>
<g fill="#777777" stroke="#555" stroke-width="0.4" stroke-linejoin="round"><path d="M540.6,42.6 Q556,40.5 572.4,46.3 L572.2,48.5 L568.8,52 Q552,51.5 536.9,57.8 L540.8,52.5 L538,48.5 L543.4,47.3 Z"/><path d="M576.2,44.2 L580,49 L586.6,45.6 L583.2,51.8 L588.4,56.2 L581.5,55.6 L579.2,62.2 L577.4,55.4 L571.6,53.8 L577.2,50.2 Z"/></g>
<g fill="#7a7a7a"><g transform="translate(42.2,372.2)"><circle cx="0" cy="1.8" r="1.75"/><path d="M-2.3,4.1 H2.3 L4.0,11.6 H-4.0 Z"/><path d="M-2.2,4.4 L-3.9,10.6 M2.2,4.4 L3.9,10.6" stroke="#7a7a7a" stroke-width="1.3" fill="none"/><rect x="-1.8" y="11" width="1.3" height="7.3"/><rect x="0.5" y="11" width="1.3" height="7.3"/></g><g transform="translate(50,372.2)"><circle cx="0" cy="1.8" r="1.75"/><path d="M-2.3,4.1 H2.3 V11.2 H-2.3 Z"/><path d="M-2.2,4.4 L-3.9,10.6 M2.2,4.4 L3.9,10.6" stroke="#7a7a7a" stroke-width="1.3" fill="none"/><rect x="-1.8" y="11" width="1.3" height="7.3"/><rect x="0.5" y="11" width="1.3" height="7.3"/></g><g transform="translate(57.8,372.2)"><circle cx="0" cy="1.8" r="1.75"/><path d="M-2.3,4.1 H2.3 L4.0,11.6 H-4.0 Z"/><path d="M-2.2,4.4 L-3.9,10.6 M2.2,4.4 L3.9,10.6" stroke="#7a7a7a" stroke-width="1.3" fill="none"/><rect x="-1.8" y="11" width="1.3" height="7.3"/><rect x="0.5" y="11" width="1.3" height="7.3"/></g><g transform="translate(34.4,393.5)"><circle cx="0" cy="1.8" r="1.75"/><path d="M-2.3,4.1 H2.3 L4.0,11.6 H-4.0 Z"/><path d="M-2.2,4.4 L-3.9,10.6 M2.2,4.4 L3.9,10.6" stroke="#7a7a7a" stroke-width="1.3" fill="none"/><rect x="-1.8" y="11" width="1.3" height="7.3"/><rect x="0.5" y="11" width="1.3" height="7.3"/></g><g transform="translate(42.2,393.5)"><circle cx="0" cy="1.8" r="1.75"/><path d="M-2.3,4.1 H2.3 V11.2 H-2.3 Z"/><path d="M-2.2,4.4 L-3.9,10.6 M2.2,4.4 L3.9,10.6" stroke="#7a7a7a" stroke-width="1.3" fill="none"/><rect x="-1.8" y="11" width="1.3" height="7.3"/><rect x="0.5" y="11" width="1.3" height="7.3"/></g><g transform="translate(50,393.5)"><circle cx="0" cy="1.8" r="1.75"/><path d="M-2.3,4.1 H2.3 L4.0,11.6 H-4.0 Z"/><path d="M-2.2,4.4 L-3.9,10.6 M2.2,4.4 L3.9,10.6" stroke="#7a7a7a" stroke-width="1.3" fill="none"/><rect x="-1.8" y="11" width="1.3" height="7.3"/><rect x="0.5" y="11" width="1.3" height="7.3"/></g><g transform="translate(57.8,393.5)"><circle cx="0" cy="1.8" r="1.75"/><path d="M-2.3,4.1 H2.3 V11.2 H-2.3 Z"/><path d="M-2.2,4.4 L-3.9,10.6 M2.2,4.4 L3.9,10.6" stroke="#7a7a7a" stroke-width="1.3" fill="none"/><rect x="-1.8" y="11" width="1.3" height="7.3"/><rect x="0.5" y="11" width="1.3" height="7.3"/></g><g transform="translate(65.6,393.5)"><circle cx="0" cy="1.8" r="1.75"/><path d="M-2.3,4.1 H2.3 L4.0,11.6 H-4.0 Z"/><path d="M-2.2,4.4 L-3.9,10.6 M2.2,4.4 L3.9,10.6" stroke="#7a7a7a" stroke-width="1.3" fill="none"/><rect x="-1.8" y="11" width="1.3" height="7.3"/><rect x="0.5" y="11" width="1.3" height="7.3"/></g><g transform="translate(26.6,414.8)"><circle cx="0" cy="1.8" r="1.75"/><path d="M-2.3,4.1 H2.3 L4.0,11.6 H-4.0 Z"/><path d="M-2.2,4.4 L-3.9,10.6 M2.2,4.4 L3.9,10.6" stroke="#7a7a7a" stroke-width="1.3" fill="none"/><rect x="-1.8" y="11" width="1.3" height="7.3"/><rect x="0.5" y="11" width="1.3" height="7.3"/></g><g transform="translate(34.4,414.8)"><circle cx="0" cy="1.8" r="1.75"/><path d="M-2.3,4.1 H2.3 V11.2 H-2.3 Z"/><path d="M-2.2,4.4 L-3.9,10.6 M2.2,4.4 L3.9,10.6" stroke="#7a7a7a" stroke-width="1.3" fill="none"/><rect x="-1.8" y="11" width="1.3" height="7.3"/><rect x="0.5" y="11" width="1.3" height="7.3"/></g><g transform="translate(42.2,414.8)"><circle cx="0" cy="1.8" r="1.75"/><path d="M-2.3,4.1 H2.3 L4.0,11.6 H-4.0 Z"/><path d="M-2.2,4.4 L-3.9,10.6 M2.2,4.4 L3.9,10.6" stroke="#7a7a7a" stroke-width="1.3" fill="none"/><rect x="-1.8" y="11" width="1.3" height="7.3"/><rect x="0.5" y="11" width="1.3" height="7.3"/></g><g transform="translate(50,414.8)"><circle cx="0" cy="1.8" r="1.75"/><path d="M-2.3,4.1 H2.3 V11.2 H-2.3 Z"/><path d="M-2.2,4.4 L-3.9,10.6 M2.2,4.4 L3.9,10.6" stroke="#7a7a7a" stroke-width="1.3" fill="none"/><rect x="-1.8" y="11" width="1.3" height="7.3"/><rect x="0.5" y="11" width="1.3" height="7.3"/></g><g transform="translate(57.8,414.8)"><circle cx="0" cy="1.8" r="1.75"/><path d="M-2.3,4.1 H2.3 L4.0,11.6 H-4.0 Z"/><path d="M-2.2,4.4 L-3.9,10.6 M2.2,4.4 L3.9,10.6" stroke="#7a7a7a" stroke-width="1.3" fill="none"/><rect x="-1.8" y="11" width="1.3" height="7.3"/><rect x="0.5" y="11" width="1.3" height="7.3"/></g><g transform="translate(65.6,414.8)"><circle cx="0" cy="1.8" r="1.75"/><path d="M-2.3,4.1 H2.3 V11.2 H-2.3 Z"/><path d="M-2.2,4.4 L-3.9,10.6 M2.2,4.4 L3.9,10.6" stroke="#7a7a7a" stroke-width="1.3" fill="none"/><rect x="-1.8" y="11" width="1.3" height="7.3"/><rect x="0.5" y="11" width="1.3" height="7.3"/></g><g transform="translate(73.4,414.8)"><circle cx="0" cy="1.8" r="1.75"/><path d="M-2.3,4.1 H2.3 L4.0,11.6 H-4.0 Z"/><path d="M-2.2,4.4 L-3.9,10.6 M2.2,4.4 L3.9,10.6" stroke="#7a7a7a" stroke-width="1.3" fill="none"/><rect x="-1.8" y="11" width="1.3" height="7.3"/><rect x="0.5" y="11" width="1.3" height="7.3"/></g></g>
<g stroke="#ba0e12" stroke-width="1.9" fill="#ba0e12" stroke-linecap="round"><path d="M223.4,358 L244.5,337" fill="none"/><path d="M249.9,332.1 L241.6,335 L247,340.4 Z" stroke-width="0.8" stroke-linejoin="round"/><path d="M258.4,341.7 L237.6,362.5" fill="none"/><path d="M232.5,367.7 L235.4,359.4 L240.8,364.8 Z" stroke-width="0.8" stroke-linejoin="round"/></g>
<g fill="none" stroke="#6f6f6f" stroke-width="3"><path d="M176.4,617 V606.4 A5.7,5.7 0 0 1 187.9,606.4 V615.9 A5.65,5.65 0 0 0 199.2,615.9 V604.5"/></g><g fill="#6f6f6f"><path d="M171,616.6 H181.8 L176.4,624.9 Z"/><path d="M193.8,605.6 H204.6 L199.2,597.1 Z"/></g>
<g fill="none" stroke="#6f6f6f" stroke-width="3.6"><path d="M582.29,615.36 A24.6,24.6 0 0 1 613.91,615.36"/><path d="M588.72,623.02 A14.6,14.6 0 0 1 607.48,623.02"/></g><path d="M598.1,634.2 L593.68,629.30 A6.6,6.6 0 0 1 602.52,629.30 Z" fill="#6f6f6f"/>
<g fill="#6f6f6f"><path d="M836,603 H863.6 A2.15,2.15 0 0 1 863.6,607.3 H836 Z"/><path d="M832.1,597.6 L837.5,603.2 L837.5,607.2 L832.1,612.9 Z"/><path d="M841.6,589.6 Q843.5,589.4 844.6,590.6 L854.2,603.2 V607.2 L844.6,619.8 Q843.5,621 841.6,620.8 L845.6,607.2 V603.2 Z"/></g>
<path d="M959,285.6 C955.5,276.5 940.5,276 940.5,289.5 C940.5,297 946.5,303 950.5,315.5 L967.5,306 C972.5,300.5 977.5,296 977.4,289.5 C977.2,276 962.5,276.5 959,285.6 Z" fill="#ba0e12" stroke="#fff" stroke-width="1.6" stroke-linejoin="round"/>
</svg></body></html>
